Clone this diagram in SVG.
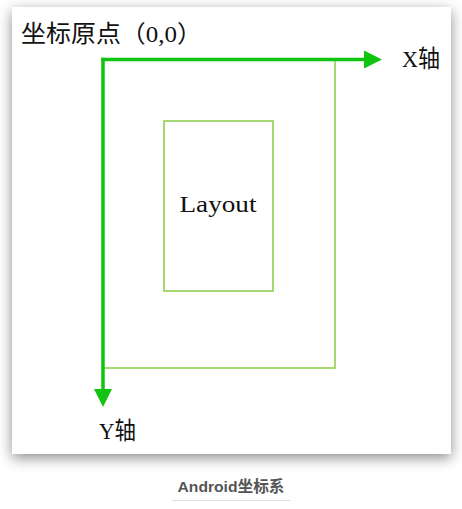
<svg xmlns="http://www.w3.org/2000/svg" width="462" height="509" viewBox="0 0 462 509">
<defs>
<style>
.t{font-family:"Liberation Serif","Noto Sans CJK SC",serif;fill:#111;font-size:24px}
.box{fill:none;stroke:#92d050;stroke-width:1.6}
.axis{stroke:#11c411;stroke-width:3.5;fill:none}
.cap{font-family:"Liberation Sans","Noto Sans CJK SC",sans-serif;font-weight:bold;font-size:15.5px;fill:#555}
</style>
<filter id="sh" x="-10%" y="-10%" width="120%" height="125%">
<feDropShadow dx="0" dy="4" stdDeviation="7" flood-color="#000" flood-opacity="0.45"/>
</filter>
<marker id="ah" markerUnits="userSpaceOnUse" markerWidth="20" markerHeight="20" refX="0" refY="9" orient="auto" viewBox="0 0 20 18">
<path d="M0,0 L18,9 L0,18 z" fill="#11c411"/>
</marker>
</defs>
<rect width="462" height="509" fill="#fff"/>
<rect x="12" y="7" width="439" height="447" fill="#fff" filter="url(#sh)"/>
<g id="outer"><rect class="box" x="103" y="59" width="232" height="309"/></g>
<g id="layout">
<rect class="box" x="164" y="121" width="109" height="170"/>
<text class="t" x="218" y="212" text-anchor="middle" font-size="22" textLength="77" lengthAdjust="spacingAndGlyphs">Layout</text>
</g>
<g id="connectors">
<path class="axis" d="M101.2,59.5 H364" marker-end="url(#ah)"/>
<path class="axis" d="M103,57.8 V389" marker-end="url(#ah)"/>
</g>
<g id="labels">
<text class="t" x="21" y="42" font-family="'Noto Sans CJK SC',sans-serif" font-size="22" textLength="181" lengthAdjust="spacingAndGlyphs">坐标原点（0,0）</text>
<text class="t" x="402" y="67" textLength="38" lengthAdjust="spacingAndGlyphs">X轴</text>
<text class="t" x="99" y="439" textLength="37" lengthAdjust="spacingAndGlyphs">Y轴</text>
</g>
<g id="caption">
<text class="cap" x="231" y="492" text-anchor="middle" textLength="107" lengthAdjust="spacingAndGlyphs">Android坐标系</text>
<line x1="172" y1="500.5" x2="290" y2="500.5" stroke="#ddd" stroke-width="1"/>
</g>
</svg>
